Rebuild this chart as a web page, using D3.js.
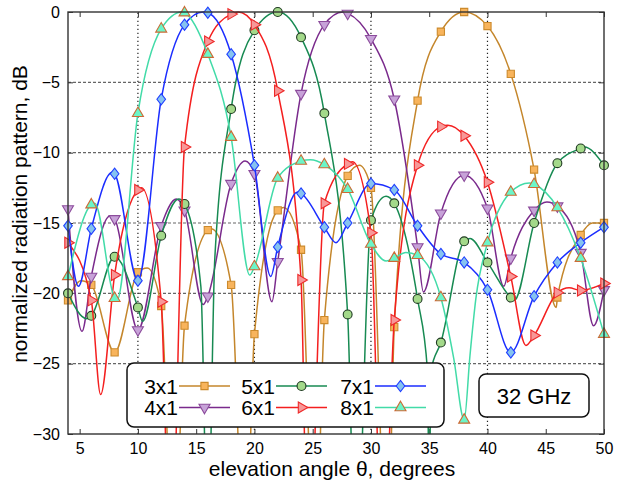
<!DOCTYPE html>
<html>
<head>
<meta charset="utf-8">
<script src="https://cdn.jsdelivr.net/npm/d3@7"></script>
<style>
  body { margin: 0; background: #fff; }
  text { font-family: "Liberation Sans", Arial, sans-serif; }
</style>
</head>
<body>
<div id="chart"></div>
<script>
// marker angles (degrees) shared by all series
const angles = d3.range(4, 51, 2);

// normalized pattern (dB) at the marker angles
const s3x1 = [-20.5, -19.4, -24.2, -18.5, -20.9, -22.3, -15.5, -19.4, -22.9, -14.1, -16.9, -21.9,
              -11.65, -12.5, -22.4, -6.3, -1.4, 0, -1.0, -4.4, -11.2, -20.3, -15.85, -15.0];
const s4x1 = [-14.0, -18.8, -14.7, -22.6, -15.2, -14.1, -20.2, -12.2, -11.5, -17.75, -5.8, -0.9,
              -0.1, -1.9, -6.2, -16.7, -14.3, -11.6, -13.95, -17.5, -14.1, -13.8, -17.1, -19.75];
const s5x1 = [-20.0, -21.6, -17.4, -21.0, -15.9, -13.65, -38, -6.9, -1.3, 0, -1.8, -7.2,
              -21.5, -14.8, -13.6, -20.4, -23.5, -16.3, -17.8, -20.3, -15.0, -10.75, -9.7, -10.9];
const s6x1 = [-16.4, -20.5, -18.7, -12.65, -20.6, -9.6, -2.1, -0.15, -0.9, -5.6, -19.05, -13.6,
              -10.8, -15.7, -21.9, -10.9, -8.15, -8.8, -12.1, -18.8, -23.0, -19.95, -19.8, -19.3];
const s7x1 = [-15.2, -15.4, -11.5, -19.1, -6.2, -0.9, -0.05, -3.0, -10.9, -16.7, -12.9, -15.3,
              -15.0, -12.2, -12.65, -15.2, -17.2, -17.8, -19.75, -24.2, -20.2, -17.8, -16.4, -15.3];
const s8x1 = [-18.8, -13.7, -20.35, -7.2, -1.2, -0.05, -3.0, -8.9, -18.1, -11.8, -10.6, -10.85,
              -12.6, -16.5, -17.5, -17.3, -20.3, -29.0, -16.4, -12.8, -12.25, -13.9, -17.5, -22.9];

// extra curve points between markers (peaks and nulls), [angle, dB]
const extra3x1 = [[5.1, -19.1], [10.8, -18.2], [13.1, -40], [16.3, -15.4], [19.2, -40], [22.5, -13.9],
                  [25.2, -40], [29.0, -10.9], [31.4, -40], [45.9, -21.0], [49.0, -15.0]];
const extra4x1 = [[5.2, -22.7], [7.6, -14.5], [13.3, -13.3], [15.6, -20.8], [19.2, -10.6], [21.5, -20.6],
                  [27.6, 0], [34.5, -19.9], [41.4, -19.5], [45.1, -13.5], [49.1, -22.3]];
const extra5x1 = [[5.6, -21.8], [10.4, -22.0], [13.5, -13.3], [15.4, -19.5], [16.6, -17.5], [28.7, -40],
                  [31.3, -13.1], [34.85, -25.5], [35.0, -35], [35.15, -25.5], [38.5, -16.1], [42.3, -20.5], [48.3, -9.6]];
const extra6x1 = [[6.8, -27.2], [10.3, -12.5], [12.8, -40], [18.6, 0], [24.6, -40], [28.4, -10.65],
                  [31.0, -40], [36.6, -8.05], [43.3, -23.7], [47.0, -19.6]];
const extra7x1 = [[4.9, -19.5], [7.8, -11.4], [15.6, 0], [21.4, -18.8], [23.7, -12.8], [27.0, -16.4]];
const extra8x1 = [[6.3, -13.6], [8.2, -20.5], [13.8, 0], [19.6, -18.7], [24.8, -10.5], [31.3, -17.7],
                  [33.0, -17.1], [37.1, -24.6], [38.5, -24.4], [39.0, -20.4], [43.6, -12.15]];

const xTicks = d3.range(5, 51, 5);
const yTicks = d3.range(-30, 1, 5);
const gridX = [10, 20, 30, 40];
const gridY = [-25, -20, -15, -10, -5];

const W = 626, H = 489;
const svg = d3.select("#chart").append("svg").attr("width", W).attr("height", H);

const x = d3.scaleLinear().domain([4, 50]).range([68, 604]);
const y = d3.scaleLinear().domain([-30, 0]).range([434, 12]);

svg.append("defs").append("clipPath").attr("id", "clip").append("rect")
  .attr("x", x(4)).attr("y", y(0) - 1)
  .attr("width", x(50) - x(4)).attr("height", y(-30) - y(0) + 1);

// grid
svg.append("g").selectAll("line").data(gridY).join("line")
  .attr("x1", x(4)).attr("x2", x(50)).attr("y1", d => y(d)).attr("y2", d => y(d))
  .attr("stroke", "#666").attr("stroke-width", 1.1).attr("stroke-dasharray", "3,2");
svg.append("g").selectAll("line").data(gridX).join("line")
  .attr("x1", d => x(d)).attr("x2", d => x(d)).attr("y1", y(-30)).attr("y2", y(0))
  .attr("stroke", "#222").attr("stroke-width", 1.2).attr("stroke-dasharray", "1.3,2.7");

// axes with inward ticks
const axisStyle = g => {
  g.select(".domain").remove();
  g.selectAll("line").attr("stroke", "#333");
  g.attr("font-size", 16).attr("font-family", "Liberation Sans, Arial, sans-serif");
};
svg.append("g").attr("transform", `translate(0,${y(-30)})`)
  .call(d3.axisBottom(x).tickValues(xTicks).tickSize(-5).tickPadding(9)).call(axisStyle);
svg.append("g").attr("transform", `translate(0,${y(0)})`)
  .call(d3.axisTop(x).tickValues(xTicks).tickSize(-5).tickFormat("")).call(axisStyle);
svg.append("g").attr("transform", `translate(${x(4)},0)`)
  .call(d3.axisLeft(y).tickValues(yTicks).tickSize(-5).tickPadding(8)).call(axisStyle);
svg.append("g").attr("transform", `translate(${x(50)},0)`)
  .call(d3.axisRight(y).tickValues(yTicks).tickSize(-5).tickFormat("")).call(axisStyle);

const shapes = {
  square: "M-3.6,-3.6h7.2v7.2h-7.2Z",
  down: "M0,6.3L5.5,-3.2L-5.5,-3.2Z",
  circle: d3.symbol().type(d3.symbolCircle).size(62)(),
  right: "M6.3,0L-3.2,5.5L-3.2,-5.5Z",
  diamond: "M0,-5.6L4.3,0L0,5.6L-4.3,0Z",
  up: "M0,-6.3L5.5,3.2L-5.5,3.2Z"
};

const series = [
  {name: "3x1", vals: s3x1, extra: extra3x1, line: "#c4862b", fill: "#f8b45c", edge: "#cc8a2c", shape: "square"},
  {name: "4x1", vals: s4x1, extra: extra4x1, line: "#7a2a8c", fill: "#c7a2d8", edge: "#8c4c9c", shape: "down"},
  {name: "5x1", vals: s5x1, extra: extra5x1, line: "#178a52", fill: "#a3d98a", edge: "#1f3a22", shape: "circle"},
  {name: "6x1", vals: s6x1, extra: extra6x1, line: "#f41f1f", fill: "#f79898", edge: "#ee2a2a", shape: "right"},
  {name: "7x1", vals: s7x1, extra: extra7x1, line: "#1b2dff", fill: "#86c3f0", edge: "#2040ff", shape: "diamond"},
  {name: "8x1", vals: s8x1, extra: extra8x1, line: "#42dba8", fill: "#6cf5c8", edge: "#cc6a35", shape: "up"}
];

const line = d3.line().x(d => x(d[0])).y(d => y(d[1])).curve(d3.curveMonotoneX);

series.forEach(s => {
  const marks = angles.map((a, i) => [a, s.vals[i]]);
  const pts = marks.concat(s.extra).sort((p, q) => p[0] - q[0]);
  svg.append("path").datum(pts).attr("clip-path", "url(#clip)")
    .attr("fill", "none").attr("stroke", s.line).attr("stroke-width", 1.5).attr("d", line);
  svg.append("g").selectAll("path").data(marks.filter(d => d[1] >= -30)).join("path")
    .attr("transform", d => `translate(${x(d[0])},${y(d[1])})`)
    .attr("d", shapes[s.shape])
    .attr("fill", s.fill).attr("stroke", s.edge).attr("stroke-width", 1.1);
});

// frame
svg.append("rect").attr("x", x(4)).attr("y", y(0))
  .attr("width", x(50) - x(4)).attr("height", y(-30) - y(0))
  .attr("fill", "none").attr("stroke", "#333").attr("stroke-width", 1.4);

// legend
const leg = svg.append("g");
leg.append("rect").attr("x", 127).attr("y", 363).attr("width", 317).attr("height", 64).attr("rx", 7)
  .attr("fill", "#fff").attr("stroke", "#111").attr("stroke-width", 1.5);
const colEnd = [178, 275, 374], rowY = [386, 407.5];
series.forEach((s, i) => {
  const cx = colEnd[Math.floor(i / 2)], cy = rowY[i % 2];
  leg.append("text").attr("x", cx).attr("y", cy + 7.5).attr("text-anchor", "end")
    .attr("font-size", 21).text(s.name);
  leg.append("line").attr("x1", cx + 1).attr("x2", cx + 52).attr("y1", cy).attr("y2", cy)
    .attr("stroke", s.line).attr("stroke-width", 1.5);
  leg.append("path").attr("transform", `translate(${cx + 26.5},${cy})`).attr("d", shapes[s.shape])
    .attr("fill", s.fill).attr("stroke", s.edge).attr("stroke-width", 1.1);
});

// frequency label
svg.append("rect").attr("x", 479).attr("y", 374).attr("width", 110).attr("height", 43).attr("rx", 7)
  .attr("fill", "#fff").attr("stroke", "#111").attr("stroke-width", 1.5);
svg.append("text").attr("x", 534).attr("y", 403.5).attr("text-anchor", "middle")
  .attr("font-size", 22).text("32 GHz");

// axis titles
svg.append("text").attr("x", 332).attr("y", 476).attr("text-anchor", "middle")
  .attr("font-size", 21).text("elevation angle θ, degrees");
svg.append("text").attr("transform", "translate(27,214) rotate(-90)").attr("text-anchor", "middle")
  .attr("font-size", 21).text("normalized radiation pattern, dB");
</script>
</body>
</html>
